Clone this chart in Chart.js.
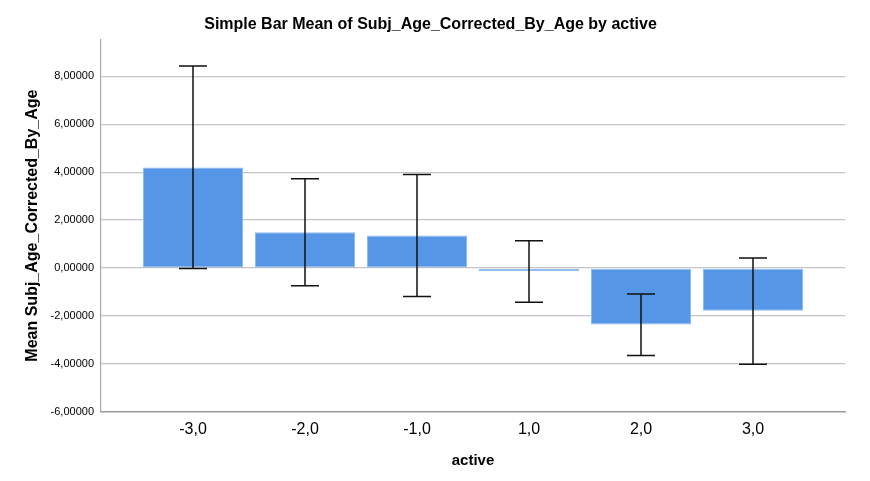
<!DOCTYPE html>
<html>
<head>
<meta charset="utf-8">
<script src="https://cdn.jsdelivr.net/npm/chart.js@4/dist/chart.umd.min.js"></script>
<style>
  html, body { margin: 0; padding: 0; background: #ffffff; }
  #wrap { width: 870px; height: 481px; }
</style>
</head>
<body>
<div id="wrap"><canvas id="c" width="870" height="481"></canvas></div>
<script>
const categories = ["-3,0", "-2,0", "-1,0", "1,0", "2,0", "3,0"];
const means      = [4.19, 1.49, 1.36, -0.13, -2.35, -1.78];
const errHigh    = [8.42, 3.72, 3.90, 1.14, -1.08, 0.42];
const errLow     = [-0.02, -0.74, -1.19, -1.42, -3.64, -4.01];
const yTicks     = [-6, -4, -2, 0, 2, 4, 6, 8];

const FONT = "'Liberation Sans', Arial, Helvetica, sans-serif";

const errorBars = {
  id: 'errorBars',
  afterDatasetsDraw(chart) {
    const meta = chart.getDatasetMeta(0);
    const ys = chart.scales.y;
    const ctx = chart.ctx;
    ctx.save();
    ctx.strokeStyle = '#111111';
    ctx.lineWidth = 1.5;
    meta.data.forEach((bar, i) => {
      const x = bar.x;
      const yh = ys.getPixelForValue(errHigh[i]);
      const yl = ys.getPixelForValue(errLow[i]);
      const cap = 14;
      ctx.beginPath();
      ctx.moveTo(x, yh); ctx.lineTo(x, yl);
      ctx.moveTo(x - cap, yh); ctx.lineTo(x + cap, yh);
      ctx.moveTo(x - cap, yl); ctx.lineTo(x + cap, yl);
      ctx.stroke();
    });
    ctx.restore();
  }
};

new Chart(document.getElementById('c'), {
  type: 'bar',
  data: {
    datasets: [{
      data: means.map((v, i) => ({ x: i + 1, y: v })),
      backgroundColor: '#5596e6',
      borderColor: '#8fbaf0',
      borderWidth: 1,
      borderSkipped: false,
      categoryPercentage: 1,
      barPercentage: 0.893
    }]
  },
  options: {
    responsive: false,
    animation: false,
    events: [],
    layout: { padding: { left: 16, right: 25, top: 0, bottom: 0 } },
    plugins: {
      legend: { display: false },
      tooltip: { enabled: false },
      title: {
        display: true,
        text: 'Simple Bar Mean of Subj_Age_Corrected_By_Age by active',
        color: '#000000',
        font: { family: FONT, size: 16, weight: 'bold' },
        padding: { top: 15, bottom: 5 }
      }
    },
    scales: {
      x: {
        type: 'linear',
        offset: false,
        min: 0.1786,
        max: 6.8214,
        afterBuildTicks(scale) {
          scale.ticks = categories.map((_, i) => ({ value: i + 1 }));
        },
        afterFit(scale) { scale.height = 69; },
        grid: { display: false, drawTicks: false },
        border: { display: true, color: '#9a9a9a', width: 1.5 },
        ticks: {
          autoSkip: false,
          maxRotation: 0,
          padding: 8,
          color: '#000000',
          font: { family: FONT, size: 16 },
          callback: (v) => categories[Math.round(v) - 1] ?? ''
        },
        title: {
          display: true,
          text: 'active',
          color: '#000000',
          font: { family: FONT, size: 15, weight: 'bold' },
          padding: { top: 0, bottom: 11 }
        }
      },
      y: {
        min: -6,
        max: 9.54,
        afterBuildTicks(scale) {
          scale.ticks = yTicks.map(v => ({ value: v }));
        },
        afterFit(scale) { scale.width = 85; },
        grid: {
          color: (ctx) => ctx.tick && ctx.tick.value === -6 ? 'rgba(0,0,0,0)' : '#c4c4c4',
          lineWidth: 1.2,
          drawTicks: false
        },
        border: { display: true, color: '#a8a8a8', width: 1.2 },
        ticks: {
          padding: 7,
          color: '#000000',
          font: { family: FONT, size: 11 },
          callback: (v) => v.toFixed(5).replace('.', ',')
        },
        title: {
          display: true,
          text: 'Mean Subj_Age_Corrected_By_Age',
          color: '#000000',
          font: { family: FONT, size: 16, weight: 'bold' },
          padding: { top: 7, bottom: 0 }
        }
      }
    }
  },
  plugins: [errorBars]
});
</script>
</body>
</html>
